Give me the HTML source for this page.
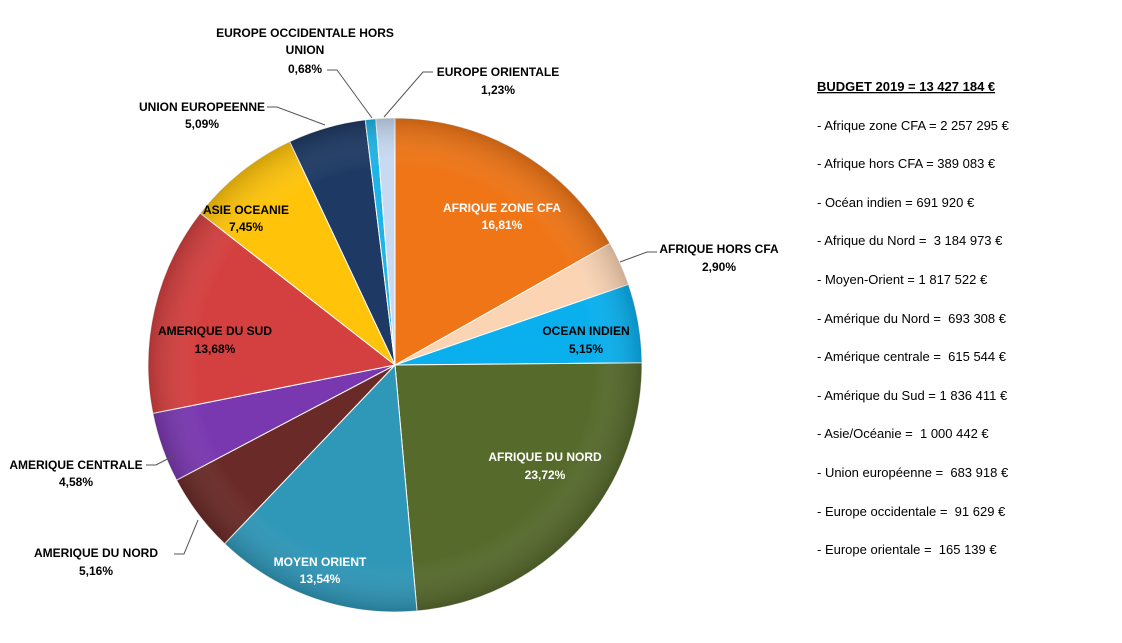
<!DOCTYPE html>
<html><head><meta charset="utf-8"><style>
body{margin:0;background:#fff;width:1122px;height:643px;overflow:hidden;font-family:"Liberation Sans",Arial,sans-serif}
svg{position:absolute;left:0;top:0}
.lg text{white-space:pre}
</style></head><body>
<svg id="s" width="1122" height="643" xmlns="http://www.w3.org/2000/svg" font-family="Liberation Sans, Arial, sans-serif">
<defs>
<radialGradient id="sh" cx="50%" cy="50%" r="50%">
<stop offset="0.8" stop-color="#fff" stop-opacity="0"/>
<stop offset="1" stop-color="#000" stop-opacity="0.18"/>
</radialGradient>
</defs>
<g id="pie"></g>
<g font-size="12" font-weight="bold" text-anchor="middle" fill="#000">
<text x="305" y="37">EUROPE OCCIDENTALE HORS</text>
<text x="305" y="54">UNION</text>
<text x="305" y="73">0,68%</text>
<text x="498" y="76">EUROPE ORIENTALE</text>
<text x="498" y="94">1,23%</text>
<text x="202" y="111">UNION EUROPEENNE</text>
<text x="202" y="128">5,09%</text>
<text x="246" y="214">ASIE OCEANIE</text>
<text x="246" y="231">7,45%</text>
<text x="215" y="335">AMERIQUE DU SUD</text>
<text x="215" y="353">13,68%</text>
<text x="76" y="469">AMERIQUE CENTRALE</text>
<text x="76" y="486">4,58%</text>
<text x="96" y="557">AMERIQUE DU NORD</text>
<text x="96" y="575">5,16%</text>
<text x="320" y="566" fill="#fff">MOYEN ORIENT</text>
<text x="320" y="583" fill="#fff">13,54%</text>
<text x="545" y="461" fill="#fff">AFRIQUE DU NORD</text>
<text x="545" y="479" fill="#fff">23,72%</text>
<text x="586" y="335">OCEAN INDIEN</text>
<text x="586" y="353">5,15%</text>
<text x="502" y="212" fill="#fff">AFRIQUE ZONE CFA</text>
<text x="502" y="229" fill="#fff">16,81%</text>
<text x="719" y="253">AFRIQUE HORS CFA</text>
<text x="719" y="271">2,90%</text>
</g>
<g stroke="#555" stroke-width="1" fill="none">
<polyline points="327,70 337,70 372,118"/>
<polyline points="433,72 423,72 384,117"/>
<polyline points="267,107 277,107 325,125"/>
<polyline points="146,465 156,465 175,455"/>
<polyline points="174,554 184,554 198,520"/>
<polyline points="657,252 647,252 620,262"/>
</g>
<g class="lg" font-size="13" fill="#000">
<text x="817" y="91" font-weight="bold" text-decoration="underline">BUDGET 2019 = 13 427 184 €</text>
<text x="817" y="130">- Afrique zone CFA = 2 257 295 €</text>
<text x="817" y="168">- Afrique hors CFA = 389 083 €</text>
<text x="817" y="207">- Océan indien = 691 920 €</text>
<text x="817" y="245">- Afrique du Nord =  3 184 973 €</text>
<text x="817" y="284">- Moyen-Orient = 1 817 522 €</text>
<text x="817" y="323">- Amérique du Nord =  693 308 €</text>
<text x="817" y="361">- Amérique centrale =  615 544 €</text>
<text x="817" y="400">- Amérique du Sud = 1 836 411 €</text>
<text x="817" y="438">- Asie/Océanie =  1 000 442 €</text>
<text x="817" y="477">- Union européenne =  683 918 €</text>
<text x="817" y="516">- Europe occidentale =  91 629 €</text>
<text x="817" y="554">- Europe orientale =  165 139 €</text>
</g>
</svg>
<script>
var d=[[16.81,"#ef7516"],[2.90,"#fbd4b4"],[5.15,"#0ab0ee"],[23.72,"#566a2c"],[13.54,"#2f97b8"],[5.16,"#6a2a27"],[4.58,"#7a38b0"],[13.68,"#d4403f"],[7.45,"#ffc40a"],[5.09,"#1e3a64"],[0.68,"#1fb4e6"],[1.23,"#c7daf2"]];
var cx=395,cy=365,r=247,a=0,g=document.getElementById("pie"),h="";
d.forEach(function(p){var a2=a+p[0]/100*2*Math.PI;
var x1=cx+r*Math.sin(a),y1=cy-r*Math.cos(a),x2=cx+r*Math.sin(a2),y2=cy-r*Math.cos(a2);
h+='<path d="M'+cx+','+cy+' L'+x1.toFixed(2)+','+y1.toFixed(2)+' A'+r+','+r+' 0 '+((a2-a)>Math.PI?1:0)+' 1 '+x2.toFixed(2)+','+y2.toFixed(2)+' Z" fill="'+p[1]+'" stroke="#fff" stroke-width="1"/>';a=a2;});
h+='<circle cx="'+cx+'" cy="'+cy+'" r="'+r+'" fill="url(#sh)"/>';
g.innerHTML=h;
</script>
</body></html>
